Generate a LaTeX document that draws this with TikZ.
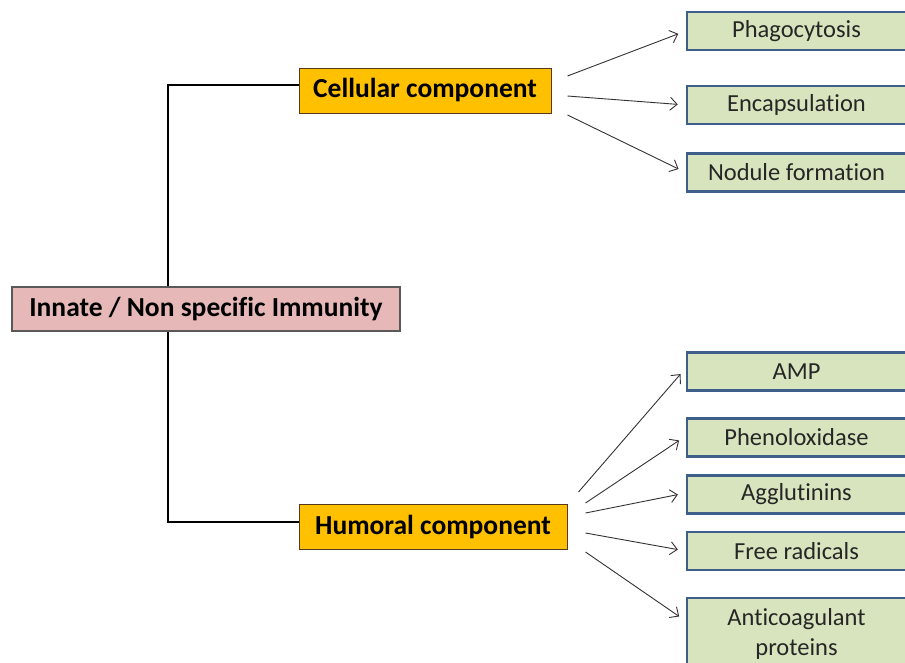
\documentclass[tikz,border=0pt]{standalone}
\usepackage{fontspec}
\setmainfont{Carlito}[Ligatures=NoCommon]
\usetikzlibrary{arrows.meta,positioning}

\definecolor{rootpink}{HTML}{E6B9B8}
\definecolor{compgold}{HTML}{FFC000}
\definecolor{leafgreen}{HTML}{D7E4BD}
\definecolor{leafblue}{HTML}{3E5F8A}

\begin{document}
\begin{tikzpicture}[
    x=1pt, y=-1pt,
    root/.style={rectangle, draw=black!65, line width=1.2pt, fill=rootpink, minimum width=388pt, minimum height=44pt, font=\fontsize{27.5}{33}\selectfont\bfseries},
    comp/.style={rectangle, draw=brown!45!black, line width=1pt, fill=compgold, minimum height=45pt, font=\fontsize{27.5}{33}\selectfont\bfseries},
    leaf/.style={rectangle, draw=leafblue, line width=2.5pt, fill=leafgreen, minimum width=219pt, minimum height=38pt, inner sep=0pt, align=center, text=black!85, font=\fontsize{24.5}{30.5}\selectfont},
    trunk/.style={line width=2pt},
    arrow/.style={-{Straight Barb[length=7pt,width=13pt]}, line width=0.9pt, black!80, shorten >=8pt}
]
\clip (0,0) rectangle (905,662);
\useasboundingbox (0,0) rectangle (905,662);

% Root
\node[root] (innate) at (206,309) {Innate / Non specific Immunity};
\coordinate (trunk) at (168,309);

% Components
\node[comp, minimum width=252pt] (cell) at (425,90.5) {Cellular component};
\node[comp, minimum width=268pt] (hum) at (433,527) {Humoral component};

% Cellular branches
\node[leaf] (phago) at (796.5,31) {Phagocytosis};
\node[leaf] (encap) at (796.5,105) {Encapsulation};
\node[leaf] (nodule) at (796.5,172.5) {Nodule formation};

% Humoral branches
\node[leaf] (amp) at (796.5,371.5) {AMP};
\node[leaf] (pheno) at (796.5,437.5) {Phenoloxidase};
\node[leaf] (agglu) at (796.5,494.5) {Agglutinins};
\node[leaf] (free) at (796.5,551) {Free radicals};
\node[leaf, minimum height=72pt] (anti) at (796.5,634) {Anticoagulant\\proteins};

% Tree lines
\draw[trunk] (innate.north -| trunk) |- ([yshift=5.5pt]cell.west);
\draw[trunk] (innate.south -| trunk) |- ([yshift=5pt]hum.west);

% Arrows
\draw[arrow] ([xshift=16pt,yshift=14.5pt]cell.east) -- (phago.west);
\draw[arrow] ([xshift=16pt,yshift=-5.5pt]cell.east) -- (encap.west);
\draw[arrow] ([xshift=16pt,yshift=-24.5pt]cell.east) -- (nodule.west);
\draw[arrow] ([xshift=11pt,yshift=35pt]hum.east) -- ([yshift=3.5pt]amp.west);
\draw[arrow] ([xshift=18pt,yshift=24pt]hum.east) -- ([yshift=1.5pt]pheno.west);
\draw[arrow] ([xshift=18pt,yshift=14pt]hum.east) -- ([yshift=1.5pt]agglu.west);
\draw[arrow] ([xshift=18pt,yshift=-6pt]hum.east) -- (free.west);
\draw[arrow] ([xshift=18pt,yshift=-25pt]hum.east) -- ([yshift=13pt]anti.west);

\end{tikzpicture}
\end{document}
